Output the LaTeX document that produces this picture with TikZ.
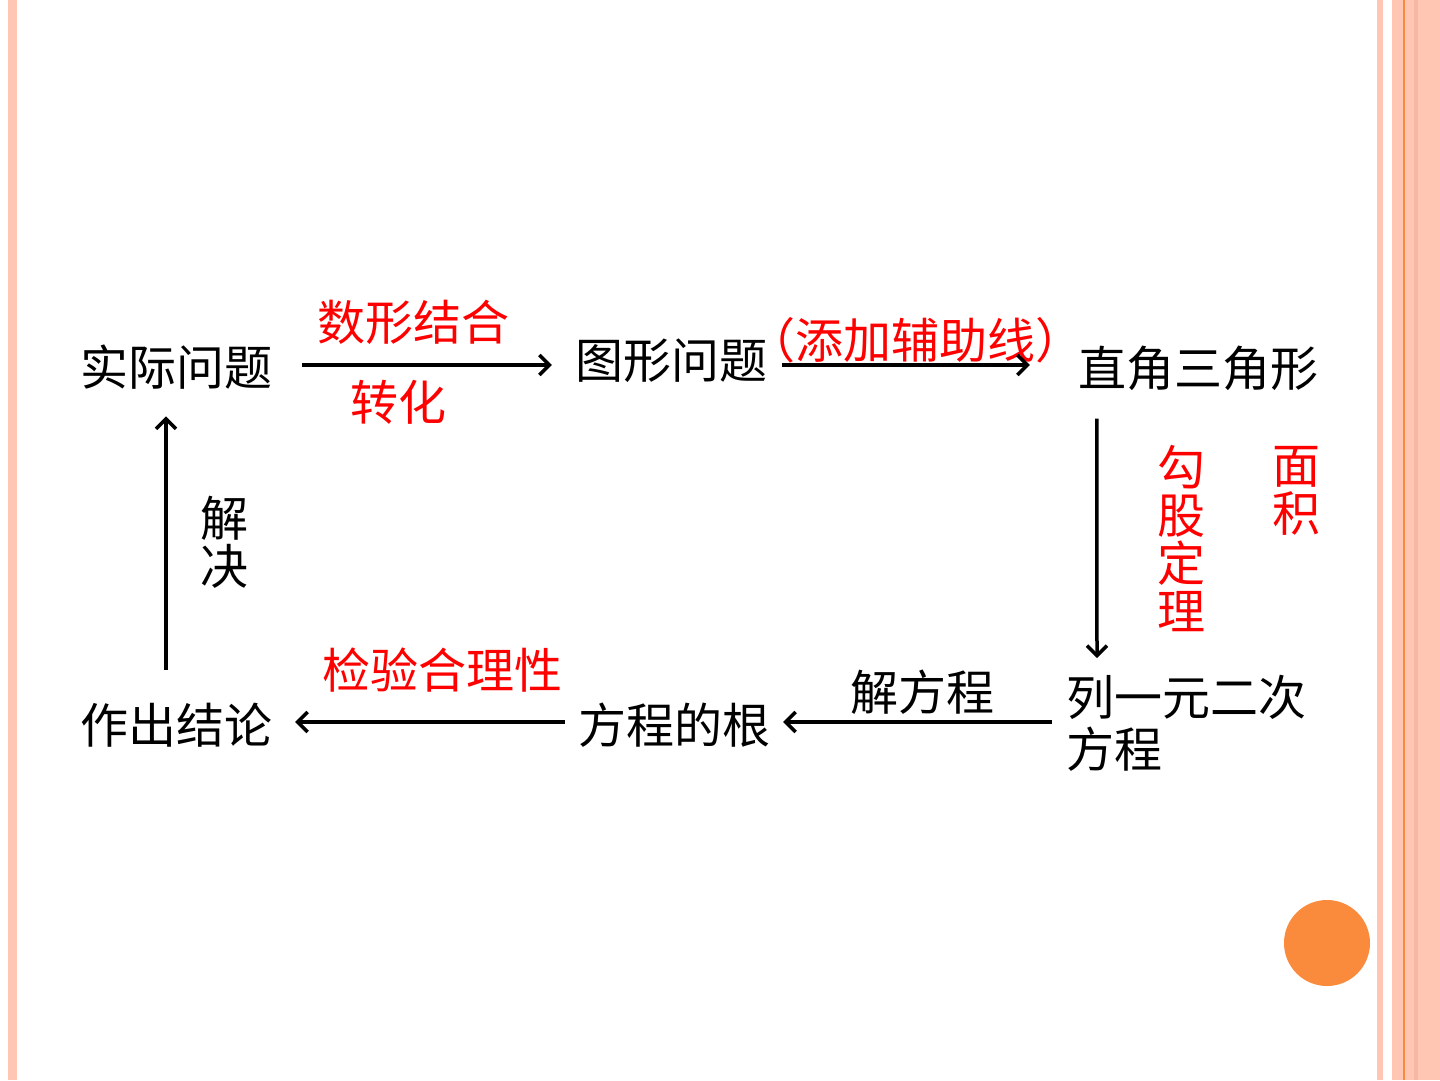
\documentclass[tikz,border=0pt]{standalone}
\usepackage{fontspec}
\setmainfont{Noto Sans CJK SC}
\usetikzlibrary{arrows.meta,calc}
\definecolor{slidepink}{RGB}{255,198,180}
\definecolor{slidepinkdark}{RGB}{246,183,163}
\definecolor{slideorange}{RGB}{250,138,60}
\tikzset{
  term/.style={inner sep=0pt, font=\fontsize{48}{52}\selectfont},
  redterm/.style={term, text=red},
  vterm/.style={inner sep=0pt, align=center, font=\fontsize{48}{48}\selectfont},
  flow/.style={-{Straight Barb[length=10pt,width=20pt,line width=3.5pt]}, line width=3.5pt},
}
\begin{document}
\begin{tikzpicture}[x=1pt,y=-1pt]
\useasboundingbox (0,0) rectangle (1440,1080);
% slide frame
\fill[white] (0,0) rectangle (1440,1080);
\fill[slidepink] (8,0) rectangle (17,1080);
\fill[slidepink] (1377,0) rectangle (1383,1080);
\fill[slidepink] (1392,0) rectangle (1440,1080);
\fill[slidepinkdark] (1414,0) rectangle (1418,1080);
\draw[slideorange, line width=1.5pt] (1404,0) -- (1404,1080);
\fill[slideorange] (1327,943) circle (43);
% terms
\node[term] (real) at (176,367) {实际问题};
\node[term] (graph) at (671,361) {图形问题};
\node[term] (tri) at (1198,368) {直角三角形};
\node[term, align=left, anchor=north west, font=\fontsize{48}{52}\selectfont] (eq) at (1066,675) {列一元二次\\方程};
\node[term] (root) at (674,725) {方程的根};
\node[term] (concl) at (176,725) {作出结论};
% labels
\node[redterm] (l1) at (413,322) {数形结合};
\node[redterm] (l2) at (398,402) {转化};
\node[redterm] (l3) at (915,340) {（添加辅助线）};
\node[vterm, text=red] (l4) at (1181,538) {勾\\股\\定\\理};
\node[vterm, text=red] (l5) at (1296,491) {面\\积};
\node[term] (l6) at (922,692) {解方程};
\node[redterm] (l7) at (442,670) {检验合理性};
\node[vterm] (l8) at (224,542) {解\\决};
% connectors
\draw[flow, shorten <=30pt, shorten >=23pt] (real.east |- 0,365) -- (graph.west |- 0,365);
\draw[flow, shorten <=15pt, shorten >=48pt] (graph.east |- 0,365) -- (tri.west |- 0,365);
\draw[flow] ([xshift=19pt,yshift=-28pt]tri.south west) -- ([xshift=31pt,yshift=17pt]eq.north west);
\draw[flow, shorten <=14pt, shorten >=13pt] (eq.west |- 0,722) -- (root.east |- 0,722);
\draw[flow, shorten <=13pt, shorten >=23pt] (root.west |- 0,722) -- (concl.east |- 0,722);
\draw[flow] ([xshift=-10pt,yshift=33pt]concl.north) -- ([xshift=-10pt,yshift=-27pt]real.south);
\end{tikzpicture}
\end{document}
